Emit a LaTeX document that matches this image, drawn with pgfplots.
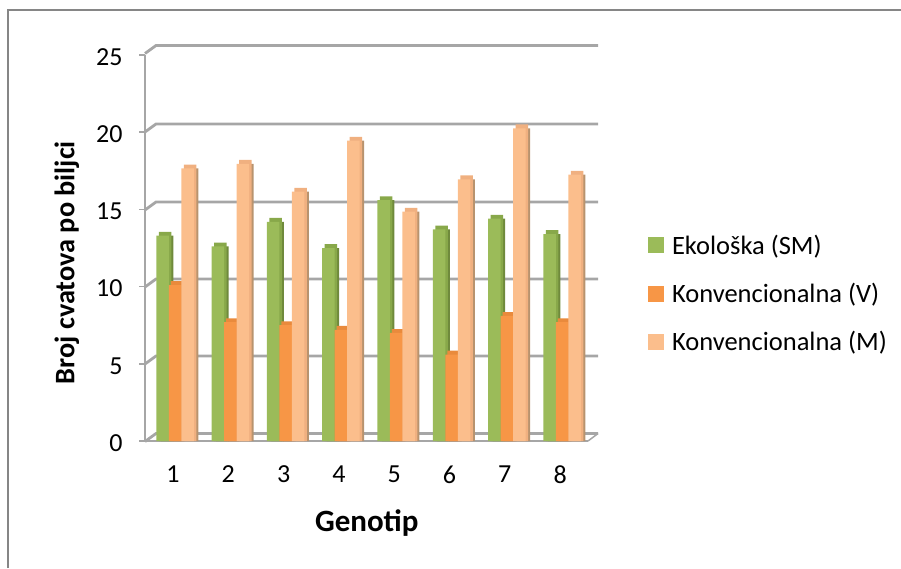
\documentclass[border=0pt]{standalone}
\usepackage{pgfplots}
\pgfplotsset{compat=1.18}
\usepackage{pgfplotstable}
\usepackage{fontspec}
\setmainfont{Carlito}
\definecolor{gridg}{HTML}{A6A6A6}
\definecolor{frameg}{HTML}{868686}
\definecolor{gr}{HTML}{9BBB59}
\definecolor{grd}{HTML}{6F8A3C}
\definecolor{grt}{HTML}{88A84A}
\definecolor{or}{HTML}{F79646}
\definecolor{ord}{HTML}{B86E2E}
\definecolor{ort}{HTML}{E98A3C}
\definecolor{pe}{HTML}{FBBE8C}
\definecolor{ped}{HTML}{B8936E}
\definecolor{pet}{HTML}{F0B080}
\pgfplotstableread{
k g o p
1 13.3 10.1 17.65
2 12.6 7.7 17.95
3 14.2 7.5 16.15
4 12.5 7.2 19.45
5 15.6 7.0 14.85
6 13.7 5.6 16.95
7 14.4 8.1 20.25
8 13.4 7.7 17.25
}\datatab
\begin{document}
\begin{tikzpicture}[x=1pt,y=1pt]
\path[use as bounding box] (0,0) rectangle (901,568);
\draw[frameg,line width=1.5pt] (8,0) -- (8,558) -- (901,558);
% back wall
\foreach \yy in {45.5,124,202,279,356,433.5}{
  \draw[gridg,line width=2.8pt] (145,{568-\yy-8}) -- (156,{568-\yy}) -- (598,{568-\yy});
}
\draw[gridg,line width=1.5pt] (588,127) -- (598,134.5);
\begin{axis}[
  at={(145pt,127pt)},anchor=south west,
  scale only axis,width=443pt,height=386pt,
  xmin=0.4575,xmax=8.468,ymin=0,ymax=25,
  clip=false,
  axis x line*=bottom,axis y line*=left,
  axis line style={gridg,line width=2.8pt,-},
  xtick={1,...,8},major x tick style={draw=none},
  ytick={0,5,...,25},
  y tick style={gridg,line width=1.5pt},
  tick align=outside,major tick length=6pt,
  /pgf/number format/assume math mode=true,
  tick label style={font=\fontsize{26}{30}\selectfont,black},
  xticklabel style={xshift=-2pt,yshift=-15pt},
  yticklabel style={xshift=-13pt,yshift=-2pt},
  xlabel={Genotip},ylabel={Broj cvatova po biljci},
  every axis x label/.style={at={(axis cs:4.467,-5.33)},anchor=center,font=\fontsize{31}{35}\selectfont\bfseries},
  every axis y label/.style={at={(axis cs:-0.955,11.55)},anchor=center,rotate=90,font=\fontsize{28.3}{32}\selectfont\bfseries},
  legend style={at={(axis cs:9.55,13.5)},anchor=north west,draw=none,fill=none,
    font=\fontsize{26.5}{30}\selectfont,row sep=23.5pt,inner sep=0pt},
  legend cell align=left,
  legend image code/.code={\fill[#1] (0pt,-8pt) rectangle (16pt,8pt);\path (22pt,0pt);},
  bar width=12.5pt,
]
% green
\addplot[forget plot,ybar,bar shift=-8pt,fill=grd,draw=none,bar width=12.5pt] table[x=k,y=g]{\datatab};
\addplot[forget plot,ybar,bar shift=-10pt,fill=grt,draw=none] table[x=k,y expr=\thisrow{g}+0.25]{\datatab};
\addplot[ybar,bar shift=-12.5pt,fill=gr,draw=none] table[x=k,y=g]{\datatab};
\addlegendentry{Ekološka (SM)}
% orange
\addplot[forget plot,ybar,bar shift=4pt,fill=ord,draw=none] table[x=k,y=o]{\datatab};
\addplot[forget plot,ybar,bar shift=2pt,fill=ort,draw=none] table[x=k,y expr=\thisrow{o}+0.25]{\datatab};
\addplot[ybar,bar shift=0pt,fill=or,draw=none] table[x=k,y=o]{\datatab};
\addlegendentry{Konvencionalna (V)}
% peach
\addplot[forget plot,ybar,bar shift=17pt,fill=ped,draw=none] table[x=k,y=p]{\datatab};
\addplot[forget plot,ybar,bar shift=15pt,fill=pet,draw=none] table[x=k,y expr=\thisrow{p}+0.25]{\datatab};
\addplot[ybar,bar shift=12.5pt,fill=pe,draw=none] table[x=k,y=p]{\datatab};
\addlegendentry{Konvencionalna (M)}
\end{axis}
\end{tikzpicture}
\end{document}
